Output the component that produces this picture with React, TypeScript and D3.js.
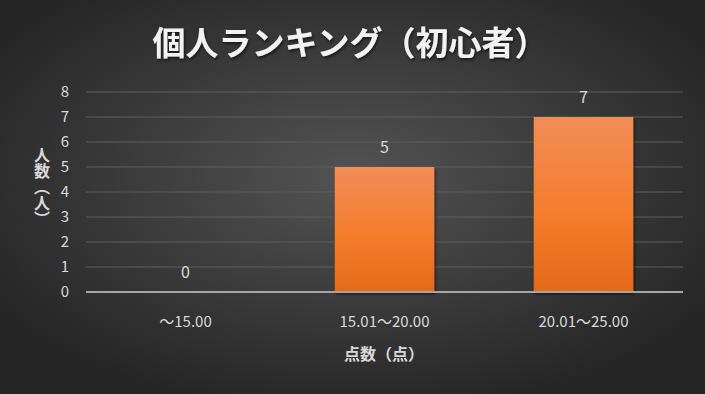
import React, { useEffect, useRef } from "react";
import * as d3 from "d3";

// chart data
const categories = ["～15.00", "15.01～20.00", "20.01～25.00"];
const counts = [0, 5, 7];
const yTicks = [0, 1, 2, 3, 4, 5, 6, 7, 8];
const title = "個人ランキング（初心者）";
const xTitle = "点数（点）";
const yTitle = "人数（人）";

const W = 705;
const H = 394;
const FONT = "'Noto Sans CJK JP', 'Noto Sans', sans-serif";

const App = () => {
    const ref = useRef<SVGSVGElement | null>(null);

    useEffect(() => {
        const svg = d3.select(ref.current);
        svg.selectAll("*").remove();

        const defs = svg.append("defs");
        const bg = defs.append("radialGradient").attr("id", "bg").attr("cx", "50%").attr("cy", "45%").attr("r", "60%");
        bg.append("stop").attr("offset", "0%").attr("stop-color", "#535353");
        bg.append("stop").attr("offset", "100%").attr("stop-color", "#262626");

        const bar = defs.append("linearGradient").attr("id", "bar").attr("x1", 0).attr("y1", 0).attr("x2", 0).attr("y2", 1);
        bar.append("stop").attr("offset", "0%").attr("stop-color", "#f28d57");
        bar.append("stop").attr("offset", "55%").attr("stop-color", "#f47c2c");
        bar.append("stop").attr("offset", "100%").attr("stop-color", "#e46a1a");

        const shadow = defs.append("filter").attr("id", "shadow").attr("x", "-10%").attr("y", "-10%").attr("width", "130%").attr("height", "130%");
        shadow.append("feDropShadow").attr("dx", 1).attr("dy", 2).attr("stdDeviation", 1.5).attr("flood-color", "#000").attr("flood-opacity", 0.6);

        svg.append("rect").attr("width", W).attr("height", H).attr("fill", "url(#bg)");

        // Scaling
        const x = d3.scaleBand().domain(categories).range([86, 683]).paddingInner(0.5).paddingOuter(0.25);
        const y = d3.scaleLinear().domain([0, 8]).range([292, 92]);

        // gridlines
        svg.append("g")
            .selectAll("line")
            .data(yTicks.filter((t) => t > 0))
            .join("line")
            .attr("x1", 86)
            .attr("x2", 683)
            .attr("y1", (d) => y(d))
            .attr("y2", (d) => y(d))
            .attr("stroke", "#5e5e5e")
            .attr("stroke-width", 1);

        // y tick labels
        svg.append("g")
            .selectAll("text")
            .data(yTicks)
            .join("text")
            .attr("x", 69)
            .attr("y", (d) => y(d))
            .attr("dy", "0.36em")
            .attr("text-anchor", "end")
            .attr("fill", "#d9d9d9")
            .attr("font-size", 15)
            .attr("font-family", FONT)
            .text((d) => d);

        // bars
        svg.append("g")
            .selectAll("rect")
            .data(counts)
            .join("rect")
            .attr("x", (d, i) => x(categories[i]) as number)
            .attr("y", (d) => y(d))
            .attr("width", x.bandwidth())
            .attr("height", (d) => y(0) - y(d))
            .attr("fill", "url(#bar)")
            .attr("filter", "url(#shadow)");

        // baseline
        svg.append("line")
            .attr("x1", 86)
            .attr("x2", 683)
            .attr("y1", y(0))
            .attr("y2", y(0))
            .attr("stroke", "#a6a6a6")
            .attr("stroke-width", 2);

        // value labels
        svg.append("g")
            .selectAll("text")
            .data(counts)
            .join("text")
            .attr("x", (d, i) => (x(categories[i]) as number) + x.bandwidth() / 2)
            .attr("y", (d) => y(d) - 14)
            .attr("text-anchor", "middle")
            .attr("fill", "#d9d9d9")
            .attr("font-size", 16)
            .attr("font-family", FONT)
            .text((d) => d);

        // x tick labels
        svg.append("g")
            .selectAll("text")
            .data(categories)
            .join("text")
            .attr("x", (d) => (x(d) as number) + x.bandwidth() / 2)
            .attr("y", 327)
            .attr("text-anchor", "middle")
            .attr("fill", "#d9d9d9")
            .attr("font-size", 15)
            .attr("font-family", FONT)
            .text((d) => d);

        // axis titles
        svg.append("text")
            .attr("x", 384)
            .attr("y", 360)
            .attr("text-anchor", "middle")
            .attr("fill", "#d9d9d9")
            .attr("font-size", 16)
            .attr("font-weight", "bold")
            .attr("font-family", FONT)
            .text(xTitle);

        svg.append("text")
            .attr("x", 42)
            .attr("y", 187)
            .attr("text-anchor", "middle")
            .attr("fill", "#d9d9d9")
            .attr("font-size", 16)
            .attr("font-weight", "bold")
            .attr("font-family", FONT)
            .style("writing-mode", "vertical-rl")
            .style("text-orientation", "upright")
            .text(yTitle);

        // title
        svg.append("text")
            .attr("x", 350)
            .attr("y", 55)
            .attr("text-anchor", "middle")
            .attr("fill", "#f2f2f2")
            .attr("font-size", 33)
            .attr("font-weight", "bold")
            .attr("font-family", FONT)
            .attr("filter", "url(#shadow)")
            .text(title);
    }, []);

    return (
        <div style={{ position: "absolute", left: 0, top: 0 }}>
            <svg ref={ref} width={W} height={H} style={{ display: "block" }} />
        </div>
    );
};

export default App;
